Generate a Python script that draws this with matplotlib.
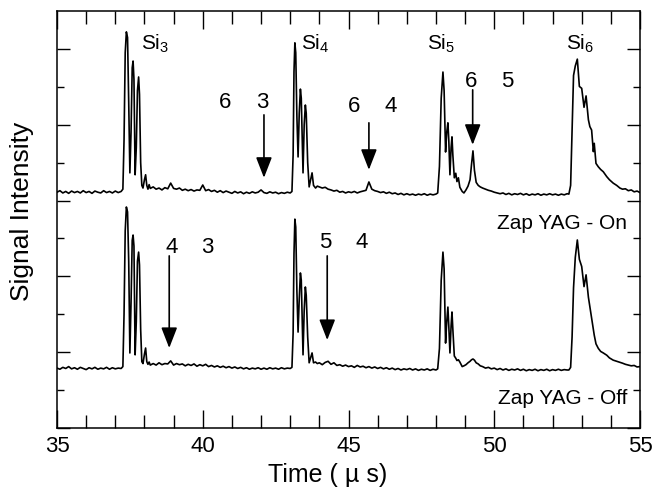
import matplotlib
matplotlib.use("Agg")
import matplotlib.pyplot as plt
import numpy as np

plt.rcParams["font.family"] = ["Liberation Sans", "DejaVu Sans"]
plt.rcParams["mathtext.default"] = "regular"

# rows: (time us, signal YAG on, signal YAG off)
rows_start = [
    (35.0, 6.22, 1.58), (35.1, 6.26, 1.55), (35.2, 6.20, 1.60), (35.3, 6.24, 1.57),
    (35.4, 6.19, 1.62), (35.5, 6.25, 1.56), (35.6, 6.21, 1.59), (35.7, 6.24, 1.55),
    (35.8, 6.20, 1.60), (35.9, 6.26, 1.57), (36.0, 6.21, 1.54), (36.1, 6.24, 1.59),
    (36.2, 6.19, 1.56), (36.3, 6.25, 1.60), (36.4, 6.22, 1.55), (36.5, 6.20, 1.58),
    (36.6, 6.26, 1.56), (36.7, 6.21, 1.60), (36.8, 6.24, 1.55), (36.9, 6.20, 1.59),
    (37.0, 6.25, 1.56), (37.1, 6.21, 1.58), (37.2, 6.24, 1.57),
]
rows_si3 = [
    (37.26, 6.30, 1.62), (37.30, 7.60, 3.00), (37.34, 9.90, 5.20), (37.38, 10.45, 5.83),
    (37.42, 10.30, 5.70), (37.46, 8.60, 4.40), (37.50, 6.73, 1.98), (37.54, 7.80, 3.30),
    (37.58, 9.50, 4.95), (37.61, 9.68, 5.09), (37.64, 9.20, 4.80), (37.68, 6.68, 1.93),
    (37.72, 7.40, 2.80), (37.76, 8.90, 4.40), (37.80, 9.26, 4.64), (37.83, 8.80, 4.30),
    (37.87, 7.00, 2.60), (37.91, 6.40, 1.75), (37.95, 6.33, 1.70), (38.00, 6.55, 1.95),
    (38.04, 6.68, 2.11), (38.08, 6.40, 1.75), (38.12, 6.30, 1.68), (38.16, 6.42, 1.74),
    (38.20, 6.32, 1.66),
]
rows_gap34 = [
    (38.3, 6.36, 1.70), (38.4, 6.30, 1.66), (38.5, 6.33, 1.72), (38.6, 6.28, 1.67),
    (38.7, 6.34, 1.70), (38.8, 6.31, 1.69), (38.9, 6.46, 1.77), (39.0, 6.32, 1.66),
    (39.1, 6.30, 1.70), (39.2, 6.33, 1.67), (39.3, 6.27, 1.69), (39.4, 6.30, 1.64),
    (39.5, 6.26, 1.68), (39.6, 6.29, 1.65), (39.7, 6.25, 1.69), (39.8, 6.28, 1.63),
    (39.9, 6.27, 1.67), (40.0, 6.41, 1.64), (40.1, 6.26, 1.68), (40.2, 6.29, 1.62),
    (40.3, 6.24, 1.65), (40.4, 6.27, 1.61), (40.5, 6.22, 1.64), (40.6, 6.26, 1.60),
    (40.7, 6.21, 1.63), (40.8, 6.25, 1.59), (40.9, 6.22, 1.62), (41.0, 6.19, 1.58),
    (41.1, 6.24, 1.61), (41.2, 6.20, 1.57), (41.3, 6.23, 1.60), (41.4, 6.18, 1.56),
    (41.5, 6.22, 1.59), (41.6, 6.19, 1.55), (41.7, 6.23, 1.58), (41.8, 6.20, 1.56),
    (41.9, 6.22, 1.59), (42.0, 6.28, 1.55), (42.1, 6.21, 1.58), (42.2, 6.19, 1.55),
    (42.3, 6.23, 1.59), (42.4, 6.20, 1.56), (42.5, 6.22, 1.58), (42.6, 6.18, 1.55),
    (42.7, 6.21, 1.59), (42.8, 6.19, 1.56), (42.9, 6.22, 1.58), (43.0, 6.20, 1.57),
]
rows_si4 = [
    (43.06, 6.24, 1.60), (43.10, 7.20, 2.50), (43.13, 9.40, 4.60), (43.16, 10.16, 5.51),
    (43.19, 9.90, 5.30), (43.23, 8.20, 3.60), (43.27, 7.15, 2.53), (43.31, 8.30, 3.40),
    (43.35, 8.94, 4.09), (43.38, 8.70, 3.90), (43.44, 6.73, 1.93), (43.48, 8.00, 3.10),
    (43.52, 8.52, 3.72), (43.55, 8.30, 3.50), (43.60, 7.00, 2.40), (43.65, 6.36, 1.72),
    (43.70, 6.55, 1.85), (43.75, 6.73, 1.98), (43.80, 6.40, 1.72), (43.87, 6.33, 1.74),
    (43.93, 6.38, 1.70),
]
rows_gap45 = [
    (44.0, 6.36, 1.72), (44.1, 6.33, 1.67), (44.2, 6.35, 1.73), (44.3, 6.30, 1.76),
    (44.4, 6.28, 1.68), (44.5, 6.25, 1.72), (44.6, 6.27, 1.65), (44.7, 6.22, 1.67),
    (44.8, 6.24, 1.63), (44.9, 6.20, 1.66), (45.0, 6.23, 1.62), (45.1, 6.21, 1.64),
    (45.2, 6.24, 1.60), (45.3, 6.20, 1.65), (45.4, 6.23, 1.61), (45.5, 6.25, 1.63),
    (45.6, 6.27, 1.59), (45.7, 6.49, 1.62), (45.8, 6.30, 1.58), (45.9, 6.26, 1.61),
    (46.0, 6.24, 1.57), (46.1, 6.21, 1.60), (46.2, 6.23, 1.56), (46.3, 6.19, 1.59),
    (46.4, 6.22, 1.55), (46.5, 6.18, 1.58), (46.6, 6.20, 1.54), (46.7, 6.16, 1.57),
    (46.8, 6.19, 1.53), (46.9, 6.15, 1.56), (47.0, 6.18, 1.54), (47.1, 6.15, 1.57),
    (47.2, 6.17, 1.53), (47.3, 6.14, 1.56), (47.4, 6.17, 1.52), (47.5, 6.15, 1.55),
    (47.6, 6.18, 1.53), (47.7, 6.14, 1.56), (47.8, 6.17, 1.52), (47.9, 6.15, 1.55),
    (48.0, 6.17, 1.53),
]
rows_si5 = [
    (48.06, 6.20, 1.56), (48.12, 6.90, 2.10), (48.18, 8.70, 3.90), (48.24, 9.39, 4.64),
    (48.28, 8.90, 4.20), (48.33, 7.28, 2.24), (48.37, 7.80, 2.80), (48.41, 8.05, 3.19),
    (48.44, 7.60, 2.70), (48.48, 6.68, 1.98), (48.52, 7.40, 2.70), (48.55, 7.68, 3.06),
    (48.58, 7.20, 2.60), (48.63, 6.60, 1.90), (48.68, 6.72, 1.84), (48.72, 6.50, 1.78),
    (48.77, 6.60, 1.80), (48.82, 6.35, 1.74), (48.90, 6.24, 1.62), (48.96, 6.20, 1.64),
    (49.03, 6.28, 1.67), (49.10, 6.38, 1.72), (49.17, 6.55, 1.76), (49.22, 6.95, 1.80),
    (49.27, 7.31, 1.82), (49.32, 6.80, 1.79), (49.38, 6.48, 1.72), (49.45, 6.40, 1.69),
    (49.52, 6.36, 1.64),
]
rows_gap56 = [
    (49.6, 6.33, 1.62), (49.7, 6.30, 1.58), (49.8, 6.27, 1.60), (49.9, 6.25, 1.56),
    (50.0, 6.22, 1.58), (50.1, 6.20, 1.54), (50.2, 6.18, 1.57), (50.3, 6.20, 1.53),
    (50.4, 6.16, 1.56), (50.5, 6.19, 1.52), (50.6, 6.15, 1.55), (50.7, 6.18, 1.53),
    (50.8, 6.16, 1.56), (50.9, 6.19, 1.52), (51.0, 6.15, 1.55), (51.1, 6.18, 1.51),
    (51.2, 6.14, 1.54), (51.3, 6.17, 1.52), (51.4, 6.15, 1.55), (51.5, 6.18, 1.51),
    (51.6, 6.14, 1.54), (51.7, 6.17, 1.52), (51.8, 6.15, 1.55), (51.9, 6.18, 1.51),
    (52.0, 6.15, 1.54), (52.1, 6.17, 1.52), (52.2, 6.14, 1.55), (52.3, 6.17, 1.52),
    (52.4, 6.15, 1.54), (52.5, 6.18, 1.53),
]
rows_si6 = [
    (52.56, 6.17, 1.53), (52.62, 6.40, 1.60), (52.67, 7.80, 2.40), (52.72, 9.30, 3.70),
    (52.78, 9.55, 4.50), (52.85, 9.73, 4.96), (52.92, 9.01, 4.45), (53.00, 8.96, 4.26),
    (53.08, 8.46, 3.73), (53.15, 8.76, 4.04), (53.23, 8.13, 3.45), (53.28, 7.95, 3.20),
    (53.34, 7.86, 2.90), (53.40, 7.29, 2.59), (53.43, 7.51, 2.45), (53.49, 6.98, 2.22),
    (53.57, 6.89, 2.10), (53.65, 6.82, 2.02), (53.74, 6.76, 1.98), (53.86, 6.63, 1.92),
    (53.95, 6.55, 1.85), (54.08, 6.46, 1.79), (54.20, 6.40, 1.76), (54.31, 6.33, 1.73),
    (54.40, 6.30, 1.71), (54.50, 6.31, 1.68), (54.60, 6.26, 1.66), (54.70, 6.28, 1.64),
    (54.80, 6.23, 1.65), (54.90, 6.25, 1.61), (55.00, 6.21, 1.62),
]

cluster_labels = ["Si$_3$", "Si$_4$", "Si$_5$", "Si$_6$"]
cluster_label_x = [37.88, 43.37, 47.69, 52.46]

on_numbers = ["6", "3", "6", "4", "6", "5"]
on_number_x = [40.78, 42.03, 45.19, 46.46, 49.20, 50.45]
on_number_y = [8.44, 8.44, 8.34, 8.34, 9.00, 9.00]
off_numbers = ["4", "3", "5", "4"]
off_number_x = [38.93, 40.17, 44.21, 45.46]
off_number_y = [4.62, 4.62, 4.75, 4.75]

arrow_x = [42.10, 45.70, 49.26, 38.85, 44.27]
arrow_from = [8.26, 8.05, 8.92, 4.54, 4.54]
arrow_to = [6.60, 6.81, 7.47, 2.11, 2.32]

all_rows = np.array(rows_start + rows_si3 + rows_gap34 + rows_si4
                    + rows_gap45 + rows_si5 + rows_gap56 + rows_si6)
time_us = all_rows[:, 0]
signal_on = all_rows[:, 1]
signal_off = all_rows[:, 2]

fig = plt.figure(figsize=(6.53, 4.93), dpi=100)
ax = fig.add_axes([57 / 653, 65 / 493, 583 / 653, 417 / 493])

ax.plot(time_us, signal_on, color="black", lw=1.2)
ax.plot(time_us, signal_off, color="black", lw=1.2)

ax.set_xlim(35, 55)
ax.set_ylim(0, 11)
ax.set_xticks(np.arange(35, 56, 5))
ax.set_xticks(np.arange(35, 56, 1), minor=True)
ax.set_yticks(np.arange(0, 11, 2))
ax.set_yticks(np.arange(1, 11, 2), minor=True)
ax.set_yticklabels([])
ax.tick_params(axis="x", which="major", direction="in", top=True, length=13, width=1.0,
               labelsize=16, pad=6)
ax.tick_params(axis="x", which="minor", direction="in", top=True, length=9.5, width=1.0)
ax.tick_params(axis="y", which="major", direction="in", right=True, length=9.5, width=1.0)
ax.tick_params(axis="y", which="minor", direction="in", right=True, length=5, width=1.0)
for s in ax.spines.values():
    s.set_linewidth(1.1)

ax.set_xlabel("Time ( µ s)", fontsize=18)
ax.set_ylabel("Signal Intensity", fontsize=19)
ax.xaxis.set_label_coords(0.465, -0.085)
ax.yaxis.set_label_coords(-0.04, 0.52)

for lab, x in zip(cluster_labels, cluster_label_x):
    ax.text(x, 9.97, lab, fontsize=15, ha="left", va="baseline")

for lab, x, y in zip(on_numbers + off_numbers, on_number_x + off_number_x,
                     on_number_y + off_number_y):
    ax.text(x, y, lab, fontsize=16, ha="center", va="baseline")

for x, y0, y1 in zip(arrow_x, arrow_from, arrow_to):
    ax.annotate("", xy=(x, y1), xytext=(x, y0),
                arrowprops=dict(arrowstyle="-|>,head_length=0.9,head_width=0.35",
                                color="black", lw=1.2, mutation_scale=14,
                                shrinkA=0, shrinkB=0))

ax.text(54.55, 5.25, "Zap YAG - On", fontsize=15, ha="right", va="baseline")
ax.text(54.55, 0.63, "Zap YAG - Off", fontsize=15, ha="right", va="baseline")

fig.savefig("out.png", dpi=100)
